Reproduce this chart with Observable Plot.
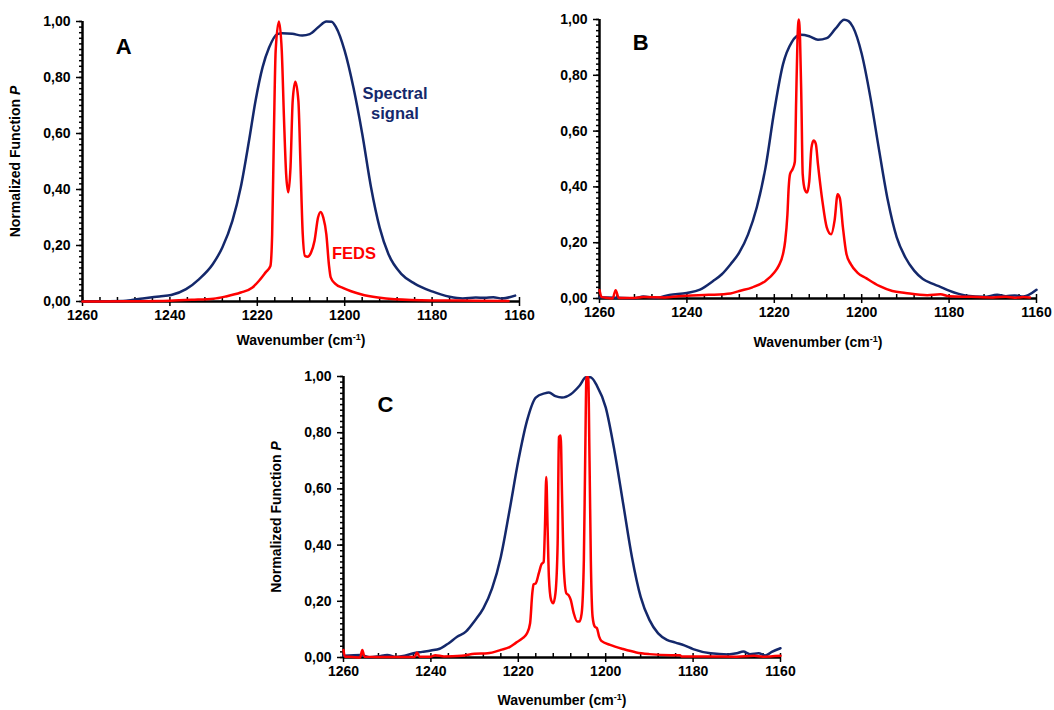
<!DOCTYPE html>
<html>
<head>
<meta charset="utf-8">
<script src="https://cdn.jsdelivr.net/npm/d3@7"></script>
<script src="https://cdn.jsdelivr.net/npm/@observablehq/plot@0.6"></script>
<style>
  html, body { margin: 0; padding: 0; background: #ffffff; }
  #root { position: relative; width: 1054px; height: 710px; overflow: hidden; font-family: "Liberation Sans", Arial, sans-serif; }
  #root svg { position: absolute; }
</style>
</head>
<body>
<div id="root"></div>
<script>
// ---------- axis ticks ----------
const xMajorTicks = [1260, 1240, 1220, 1200, 1180, 1160];
const xMinorTicks = [1260,1256,1252,1248,1244,1240,1236,1232,1228,1224,1220,1216,1212,1208,1204,1200,1196,1192,1188,1184,1180,1176,1172,1168,1164,1160];
const yMajorTicks = [0, 0.2, 0.4, 0.6, 0.8, 1.0];
const yMinorTicks = [0,0.02,0.04,0.06,0.08,0.1,0.12,0.14,0.16,0.18,0.2,0.22,0.24,0.26,0.28,0.3,0.32,0.34,0.36,0.38,0.4,0.42,0.44,0.46,0.48,0.5,0.52,0.54,0.56,0.58,0.6,0.62,0.64,0.66,0.68,0.7,0.72,0.74,0.76,0.78,0.8,0.82,0.84,0.86,0.88,0.9,0.92,0.94,0.96,0.98,1.0];

// ---------- Panel A ----------
const aSignalWn = [1260,1255,1250,1246.2,1242.4,1239.7,1236.3,1233.3,1230.2,1228,1225.7,1223.8,1221.9,1220.4,1218.8,1217.3,1215.4,1214.3,1212,1209.7,1208,1206,1204.2,1203,1202,1200,1198,1196,1194,1192,1190,1187,1184,1180,1176,1173,1170,1168,1166,1164,1161];
const aSignalP  = [0,0.001,0.003,0.011,0.018,0.023,0.044,0.08,0.133,0.193,0.288,0.407,0.574,0.717,0.836,0.907,0.955,0.958,0.956,0.95,0.955,0.98,1.0,0.999,0.98,0.895,0.764,0.60,0.41,0.264,0.17,0.098,0.064,0.036,0.017,0.011,0.014,0.013,0.015,0.011,0.021];
const aFedsWn = [1260,1250,1240,1235,1230,1227.2,1223.8,1221.1,1219.6,1218.1,1217,1216.6,1216.2,1215.8,1215.05,1214.4,1213.9,1213.4,1212.9,1212.4,1211.9,1211.3,1210.6,1210.1,1209.6,1209.1,1208.5,1207.7,1206.9,1206.1,1205.5,1204.9,1204.2,1203.6,1203.2,1202.2,1200.3,1196.3,1192.4,1188.5,1180,1170,1162.5];
const aFedsP  = [0,0.001,0.003,0.006,0.01,0.018,0.032,0.05,0.074,0.104,0.127,0.24,0.6,0.895,1.0,0.895,0.657,0.455,0.39,0.48,0.717,0.785,0.717,0.48,0.24,0.163,0.16,0.175,0.217,0.30,0.32,0.30,0.24,0.13,0.086,0.064,0.048,0.026,0.014,0.008,0.004,0.003,0.002];

// ---------- Panel B ----------
const bSignalWn = [1260,1256,1252,1250,1247,1244,1240,1237,1234,1232,1230,1228,1226,1224,1222,1220,1218,1216,1214,1212,1210,1208,1206,1204,1203,1202,1200,1198,1196,1194,1192,1190,1188,1186,1184,1182,1180,1176,1172,1169,1167,1165,1163,1160];
const bSignalP  = [0.004,0.003,0.001,0.007,0.002,0.013,0.02,0.032,0.063,0.087,0.123,0.165,0.23,0.327,0.47,0.673,0.84,0.919,0.945,0.94,0.927,0.933,0.967,0.999,0.994,0.973,0.877,0.72,0.53,0.35,0.22,0.147,0.10,0.07,0.054,0.042,0.028,0.01,0.006,0.013,0.008,0.011,0.007,0.031];
const bFedsWn = [1260,1259.5,1258,1257,1256.3,1255.6,1252,1250,1245,1242,1240,1235,1230,1228,1225,1222,1220,1219,1218,1217.5,1217,1216.7,1216.4,1215.8,1215.3,1215,1214.7,1214.4,1214.1,1213.8,1213.5,1213,1212.5,1212,1211.5,1211,1210.5,1210,1209,1208,1207,1206.2,1205.5,1205,1204.3,1203.5,1202.5,1201,1199,1196,1193,1190,1185,1182,1180,1175,1170,1167,1165,1163,1161.5];
const bFedsP  = [0.03,0.005,0.002,0.0,0.03,0.002,0.002,0.005,0.004,0.008,0.01,0.013,0.018,0.027,0.04,0.063,0.093,0.117,0.16,0.207,0.30,0.40,0.446,0.464,0.49,0.71,0.925,1.0,0.925,0.71,0.446,0.39,0.38,0.42,0.54,0.566,0.554,0.48,0.35,0.255,0.23,0.28,0.374,0.36,0.255,0.16,0.123,0.093,0.073,0.045,0.027,0.02,0.012,0.015,0.008,0.006,0.004,0.006,0.003,0.005,0.004];

// ---------- Panel C ----------
const cSignalWn = [1260,1256,1254,1252,1250,1248,1246,1244,1242,1240,1238,1236,1234,1232,1230,1228,1226,1224,1222,1220,1218,1216,1214,1213,1211.5,1210,1208,1206,1204.5,1203.5,1202,1200,1198,1196,1194,1192,1190,1188,1186,1184,1182,1180,1176,1172,1170,1168.5,1167,1165,1163.5,1162,1160];
const cSignalP  = [0.006,0.009,0.001,0.004,0.009,0.002,0.006,0.015,0.02,0.025,0.031,0.05,0.074,0.092,0.13,0.175,0.246,0.358,0.524,0.70,0.843,0.925,0.94,0.943,0.93,0.925,0.937,0.967,0.997,0.997,0.967,0.89,0.736,0.547,0.358,0.216,0.134,0.086,0.063,0.053,0.043,0.03,0.015,0.011,0.015,0.021,0.012,0.015,0.007,0.02,0.033];
const cFedsWn = [1260,1259.7,1258,1256.2,1255.7,1255.2,1250,1245,1243.7,1243.2,1242.6,1240,1239,1237,1233,1230,1227,1224,1222,1220.5,1219,1218,1217.3,1216.8,1216.5,1216,1215.3,1214.7,1214.2,1213.9,1213.6,1213.3,1213,1212.5,1212,1211.5,1211,1210.7,1210.3,1210,1209.6,1209,1208.5,1208,1207.3,1206.5,1206,1205.5,1205,1204.7,1204.4,1204,1203.7,1203.4,1203,1202.5,1202,1201.5,1201,1199,1196,1193,1190,1185,1183,1182.7,1178,1170,1166,1164,1160];
const cFedsP  = [0.027,0.003,0.002,0.0,0.027,0.003,0.002,0.002,0.002,0.018,0.003,0.003,0.008,0.004,0.006,0.013,0.015,0.027,0.037,0.053,0.069,0.086,0.122,0.228,0.26,0.264,0.30,0.332,0.34,0.465,0.642,0.465,0.287,0.205,0.193,0.228,0.405,0.784,0.79,0.583,0.323,0.228,0.222,0.205,0.157,0.128,0.128,0.157,0.346,0.70,0.997,0.997,0.70,0.346,0.145,0.11,0.104,0.074,0.059,0.045,0.03,0.018,0.012,0.008,0.008,0.004,0.004,0.003,0.006,0.003,0.006];

// ---------- styles ----------
const navy = "#14286b";
const red = "#ff0000";
const fmtY = d => d.toFixed(2).replace(".", ",");
const SVGNS = "http://www.w3.org/2000/svg";

function rows(wn, p) { return wn.map((w, i) => ({wn: w, p: p[i]})); }

function setRichLabel(svg, aria, parts) {
  const t = svg.querySelector(`g[aria-label="${aria}"] text`);
  if (!t) return;
  while (t.firstChild) t.removeChild(t.firstChild);
  for (const part of parts) {
    const ts = document.createElementNS(SVGNS, "tspan");
    ts.textContent = part.text;
    if (part.italic) ts.setAttribute("font-style", "italic");
    if (part.sup) { ts.setAttribute("font-size", "9"); ts.setAttribute("dy", "-5"); }
    if (part.down) ts.setAttribute("dy", "5");
    t.appendChild(ts);
  }
}

function panel(cfg) {
  const W = 437;
  const ml = 82, mr = 18;
  const plot = Plot.plot({
    width: ml + W + mr,
    height: cfg.mt + cfg.fh + cfg.mb,
    marginLeft: ml, marginRight: mr, marginTop: cfg.mt, marginBottom: cfg.mb,
    style: {fontFamily: '"Liberation Sans", Arial, sans-serif', fontWeight: "bold", fontSize: "14px", color: "#000", background: "transparent", overflow: "visible"},
    x: {domain: [1260, 1160]},
    y: {domain: [0, 1]},
    marks: [
      Plot.axisY(yMinorTicks, {tickSize: 3, strokeWidth: 1.5, tickFormat: () => "", label: null}),
      Plot.axisY(yMajorTicks, {tickSize: 6, strokeWidth: 1.5, tickPadding: 6, tickFormat: fmtY, fontSize: 14,
        label: cfg.yLabel ? "Normalized Function P" : null, labelAnchor: "center", labelOffset: 72}),
      Plot.axisX(xMinorTicks, {tickSize: -4, strokeWidth: 1.5, tickFormat: () => "", label: null}),
      Plot.axisX(xMajorTicks, {tickSize: 5, strokeWidth: 1.5, tickPadding: 4, tickFormat: d => String(d), fontSize: 14,
        label: "Wavenumber (cm-1)", labelAnchor: "center", labelOffset: cfg.xlo}),
      Plot.ruleX([1260], {stroke: "#000", strokeWidth: 2.5}),
      Plot.ruleY([0], {stroke: "#000", strokeWidth: 2.5}),
      Plot.line(rows(cfg.sigWn, cfg.sigP), {x: "wn", y: "p", stroke: navy, strokeWidth: 2.5, curve: "monotone-x"}),
      Plot.line(rows(cfg.fedsWn, cfg.fedsP), {x: "wn", y: "p", stroke: red, strokeWidth: 2.5, curve: "monotone-x"}),
      Plot.text([cfg.letter], {x: cfg.letterX, y: cfg.letterY, text: d => d, fontSize: 22, fontWeight: "bold", fill: "#000"}),
      ...(cfg.extra || [])
    ]
  });
  setRichLabel(plot, "x-axis label", [{text: "Wavenumber (cm"}, {text: "-1", sup: true}, {text: ")", down: true}]);
  if (cfg.yLabel) setRichLabel(plot, "y-axis label", [{text: "Normalized Function "}, {text: "P", italic: true}]);
  plot.style.left = (cfg.left - ml) + "px";
  plot.style.top = (cfg.top - cfg.mt) + "px";
  document.getElementById("root").appendChild(plot);
}

panel({
  sigWn: aSignalWn, sigP: aSignalP, fedsWn: aFedsWn, fedsP: aFedsP,
  letter: "A", letterX: 1250.6, letterY: 0.91,
  yLabel: true, left: 82, top: 21, fh: 280, mt: 21, mb: 60, xlo: 43,
  extra: [
    Plot.text(["Spectral\nsignal"], {x: 1188.5, y: 0.71, text: d => d, fontSize: 16.5, fontWeight: "bold", fill: navy, lineHeight: 1.2}),
    Plot.text(["FEDS"], {x: 1197.9, y: 0.17, text: d => d, fontSize: 16.5, fontWeight: "bold", fill: red})
  ]
});
panel({
  sigWn: bSignalWn, sigP: bSignalP, fedsWn: bFedsWn, fedsP: bFedsP,
  letter: "B", letterX: 1250.6, letterY: 0.915,
  yLabel: false, left: 599, top: 19, fh: 279, mt: 19, mb: 62, xlo: 48
});
panel({
  sigWn: cSignalWn, sigP: cSignalP, fedsWn: cFedsWn, fedsP: cFedsP,
  letter: "C", letterX: 1250.4, letterY: 0.9,
  yLabel: true, left: 343, top: 376, fh: 281, mt: 21, mb: 52, xlo: 47
});
</script>
</body>
</html>
